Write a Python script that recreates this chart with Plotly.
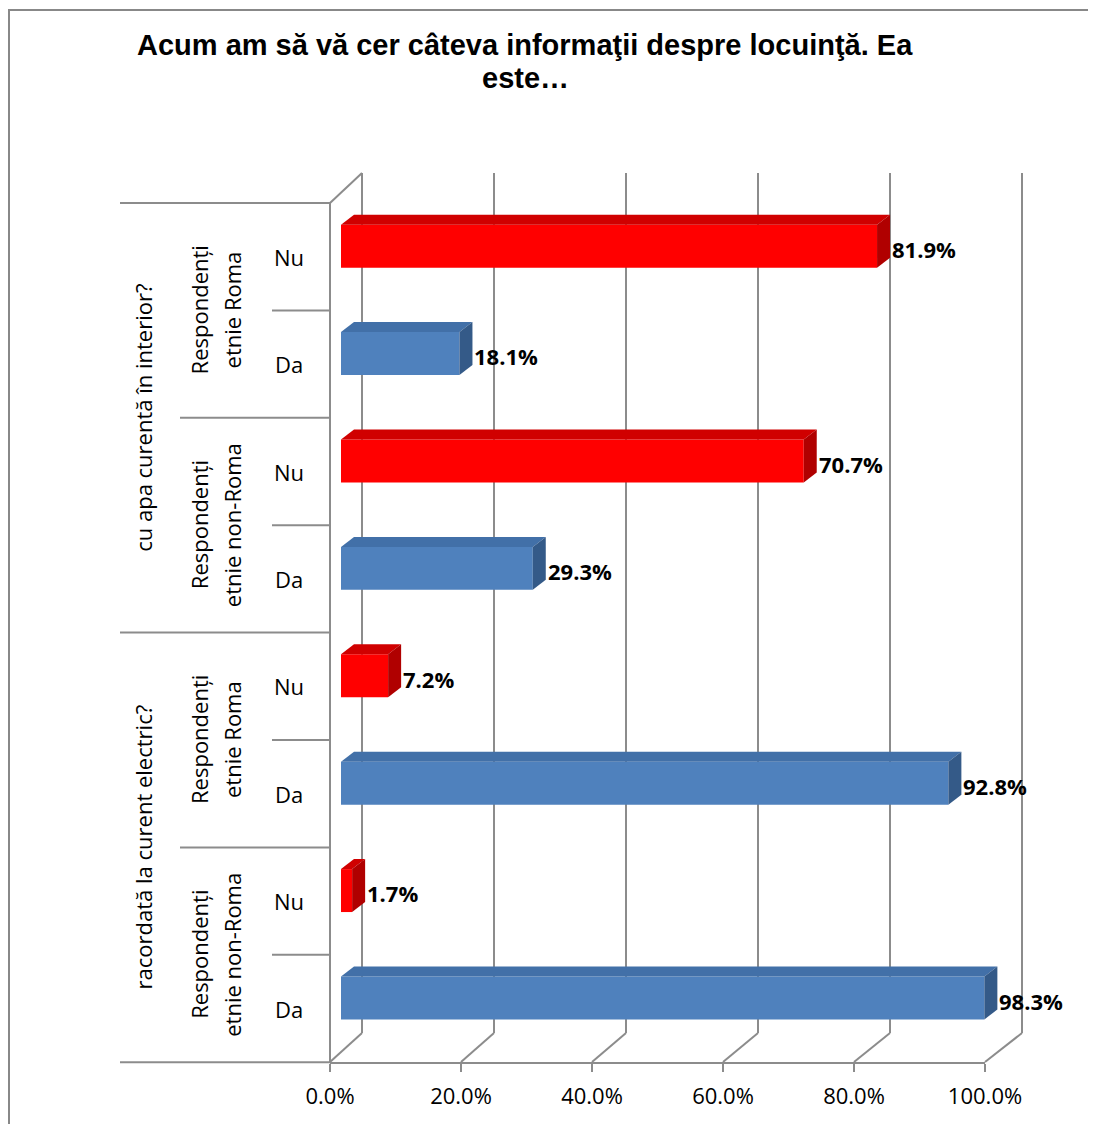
import plotly.graph_objects as go

# ---------------- data ----------------
groups_outer = ["cu apa curentă în interior?", "racordată la curent electric?"]
groups_mid = [["Respondenți", "etnie Roma"], ["Respondenți", "etnie non-Roma"]]
answers = ["Nu", "Da", "Nu", "Da", "Nu", "Da", "Nu", "Da"]
values = [81.9, 18.1, 70.7, 29.3, 7.2, 92.8, 1.7, 98.3]
tick_vals = [0, 20, 40, 60, 80, 100]
tick_text = ["0.0%", "20.0%", "40.0%", "60.0%", "80.0%", "100.0%"]
title_lines = ["Acum am să vă cer câteva informaţii despre locuinţă. Ea", "este…"]

# page offset (body margin) and figure size
OFS = 8
W, H = 1080, 1116
RED, BLUE = "#FF0000", "#4F81BD"
RED_TOP, RED_SIDE = "#D00000", "#B00000"
BLUE_TOP, BLUE_SIDE = "#4270A8", "#345A88"
GRAY = "#8C8C8C"

# geometry helpers: reference-page pixel -> paper coords
def px(x):
    return (x - OFS) / W

def py(y):
    return 1 - (y - OFS) / H

# bar (front-face) scale: value 0 -> 341px page, 100 -> 995.5px
FX0, FS = 341.0, 6.545
# category bands: centre of band i at 256.7 + 107.4*i px (page)
CY0, CB = 256.7, 107.4
x3_range = [-(FX0 - OFS) / FS, (W - (FX0 - OFS)) / FS]
y3_range = [(H - (CY0 - OFS)) / CB, -(CY0 - OFS) / CB]

def vx(X):  # page pixel -> x3 value
    return (X - FX0) / FS

DX = 13 / FS      # depth offset in value units
DY = 10 / CB      # depth offset in category units
OFF, BW = -0.298, 0.40

idx = list(range(len(values)))
colors = [RED if a == "Nu" else BLUE for a in answers]

fig = go.Figure()

# dummy traces so the back-wall and front-axis subplots are drawn
fig.add_trace(go.Scatter(x=[None], y=[None], xaxis="x", yaxis="y",
                         showlegend=False, hoverinfo="skip"))
fig.add_trace(go.Scatter(x=[None], y=[None], xaxis="x2", yaxis="y2",
                         showlegend=False, hoverinfo="skip"))

# front faces of bars
fig.add_trace(go.Bar(
    x=values, y=idx, orientation="h",
    width=BW, offset=OFF,
    marker=dict(color=colors, line=dict(width=0)),
    xaxis="x3", yaxis="y3", hoverinfo="skip", showlegend=False,
))

shapes = []
annotations = []

# 3D top and side faces, derived from values
for i, (v, a) in enumerate(zip(values, answers)):
    yt = i + OFF
    yb = i + OFF + BW
    top_c = RED_TOP if a == "Nu" else BLUE_TOP
    side_c = RED_SIDE if a == "Nu" else BLUE_SIDE
    shapes.append(dict(
        type="path", xref="x3", yref="y3", layer="above",
        path=f"M 0,{yt} L {v},{yt} L {v+DX},{yt-DY} L {DX},{yt-DY} Z",
        fillcolor=top_c, line=dict(width=0)))
    shapes.append(dict(
        type="path", xref="x3", yref="y3", layer="above",
        path=f"M {v},{yt} L {v+DX},{yt-DY} L {v+DX},{yb-DY} L {v},{yb} Z",
        fillcolor=side_c, line=dict(width=0)))
    annotations.append(dict(
        x=v + DX, y=i - 0.072, xref="x3", yref="y3",
        text=f"<b>{v:.1f}%</b>", showarrow=False, xanchor="left", yanchor="middle",
        font=dict(family="Open Sans", size=22, color="black")))

# category axis structure
line = dict(color=GRAY, width=2)
n = len(values)
for k in range(n + 1):
    yb_ = k - 0.5
    if k % 4 == 0:
        x0 = 120
    elif k % 2 == 0:
        x0 = 180
    else:
        x0 = 272
    shapes.append(dict(type="line", xref="paper", yref="y3",
                       x0=px(x0), x1=px(330), y0=yb_, y1=yb_, line=line, layer="below"))
# front vertical axis line
shapes.append(dict(type="line", xref="paper", yref="y3",
                   x0=px(330), x1=px(330), y0=-0.5, y1=n - 0.5, line=line, layer="below"))
# top depth diagonal
shapes.append(dict(type="line", xref="paper", yref="paper",
                   x0=px(330), y0=py(203), x1=px(362), y1=py(173), line=line, layer="below"))
# floor depth diagonals
for t in tick_vals:
    fxp = 330 + 6.55 * t
    bxp = 362 + 6.6 * t
    shapes.append(dict(type="line", xref="paper", yref="paper",
                       x0=px(fxp), y0=py(1062), x1=px(bxp), y1=py(1033), line=line, layer="below"))

# border (left and top)
shapes.append(dict(type="line", xref="paper", yref="paper",
                   x0=px(9), y0=py(10), x1=px(9), y1=0, line=dict(color="#888888", width=2)))
shapes.append(dict(type="line", xref="paper", yref="paper",
                   x0=px(8), y0=py(10), x1=1, y1=py(10), line=dict(color="#888888", width=2)))

# category labels (placed in bar-axis coordinates)
lab_font = dict(family="Open Sans", size=22, color="black")
for i, a in enumerate(answers):
    annotations.append(dict(x=vx(289), y=i, xref="x3", yref="y3", text=a,
                            showarrow=False, font=lab_font))
for g in range(4):
    mid = g * 2 + 0.5
    l1, l2 = groups_mid[g % 2]
    annotations.append(dict(x=vx(199), y=mid, xref="x3", yref="y3", text=l1,
                            showarrow=False, textangle=-90, font=lab_font))
    annotations.append(dict(x=vx(232), y=mid, xref="x3", yref="y3", text=l2,
                            showarrow=False, textangle=-90, font=lab_font))
for g, name in enumerate(groups_outer):
    annotations.append(dict(x=vx(143), y=g * 4 + 1.5, xref="x3", yref="y3", text=name,
                            showarrow=False, textangle=-90, font=lab_font))

# title (two centred lines)
for line_txt, yc in zip(title_lines, [45, 78]):
    annotations.append(dict(x=px(525), y=py(yc), xref="paper", yref="paper",
                            text=f"<b>{line_txt}</b>", showarrow=False,
                            xanchor="center", yanchor="middle",
                            font=dict(family="Liberation Sans", size=29, color="black")))

fig.update_layout(
    width=W, height=H,
    margin=dict(l=0, r=0, t=0, b=0, pad=0, autoexpand=False),
    paper_bgcolor="white", plot_bgcolor="rgba(0,0,0,0)",
    showlegend=False,
    shapes=shapes, annotations=annotations,
    # back wall gridlines
    xaxis=dict(domain=[px(362 - 3.3), px(1022 + 3.3)], range=[-0.5, 100.5],
               tickvals=tick_vals, showticklabels=False, ticks="",
               showgrid=True, gridcolor=GRAY, gridwidth=2, automargin=False,
               zeroline=False, showline=False, anchor="y", fixedrange=True),
    yaxis=dict(domain=[py(1033), py(173)], range=[0, 1], visible=False, automargin=False,
               showgrid=False, zeroline=False, anchor="x", fixedrange=True),
    # front value axis
    xaxis2=dict(domain=[px(330), px(985)], range=[0, 100],
                tickvals=tick_vals, ticktext=tick_text,
                ticks="outside", ticklen=8, tickwidth=2, tickcolor=GRAY,
                showline=True, linecolor=GRAY, linewidth=2, automargin=False,
                ticklabelstandoff=6,
                showgrid=False, zeroline=False, anchor="y2",
                tickfont=dict(family="Open Sans", size=22, color="black"), fixedrange=True),
    yaxis2=dict(domain=[py(1062), 0.5], range=[0, 1], visible=False, automargin=False,
                showgrid=False, zeroline=False, anchor="x2", fixedrange=True),
    # bars
    xaxis3=dict(domain=[0, 1], range=x3_range, visible=False, showgrid=False, automargin=False,
                zeroline=False, anchor="y3", fixedrange=True),
    yaxis3=dict(domain=[0, 1], range=y3_range, visible=False, showgrid=False, automargin=False,
                zeroline=False, anchor="x3", fixedrange=True),
)

fig.write_html("out.html")
